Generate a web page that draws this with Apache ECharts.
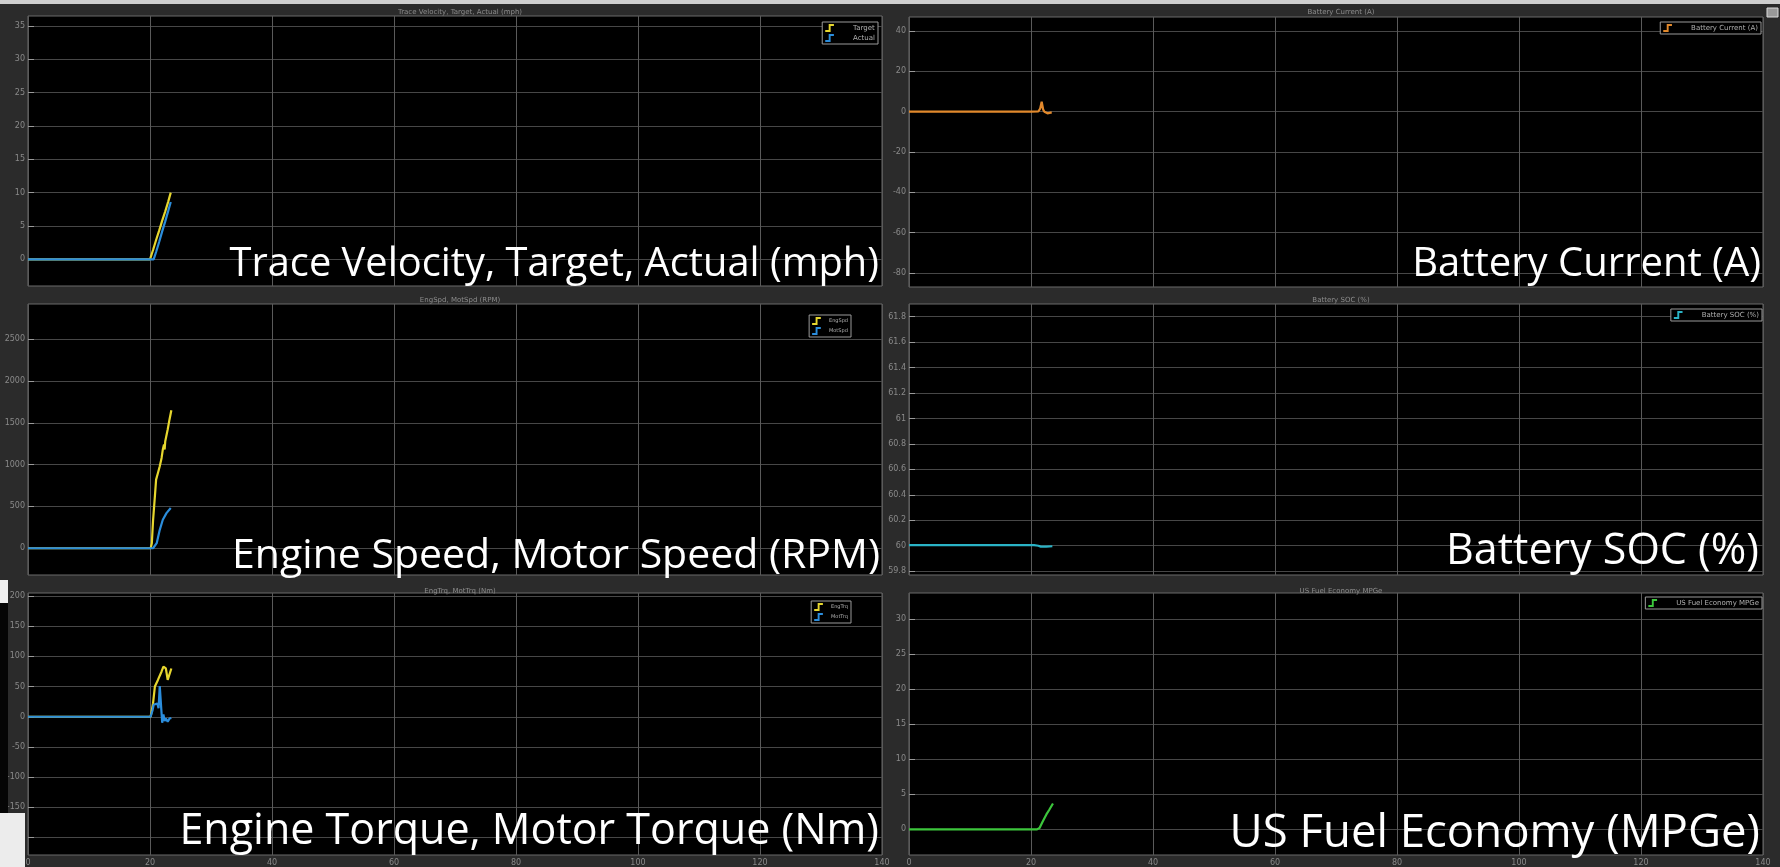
<!DOCTYPE html>
<html>
<head>
<meta charset="utf-8">
<script src="https://cdn.jsdelivr.net/npm/echarts@6/dist/echarts.min.js"></script>
<style>
html,body{margin:0;padding:0;background:#2b2b2b;}
#c{width:1780px;height:867px;}
</style>
</head>
<body>
<div id="c"></div>
<script>
// ---- data (time in s) ----
const timeTicks = [0, 20, 40, 60, 80, 100, 120, 140];
const velTicks = [0, 5, 10, 15, 20, 25, 30, 35];
const currTicks = [-80, -60, -40, -20, 0, 20, 40];
const spdTicks = [0, 500, 1000, 1500, 2000, 2500];
const socTicks = [59.8, 60, 60.2, 60.4, 60.6, 60.8, 61, 61.2, 61.4, 61.6, 61.8];
const trqTicks = [-200, -150, -100, -50, 0, 50, 100, 150, 200];
const mpgTicks = [0, 5, 10, 15, 20, 25, 30];

const velTarget = [[0,0],[20.0,0],[20.5,1.4],[21.0,2.9],[21.5,4.3],[22.0,5.8],[22.5,7.2],[23.0,8.7],[23.4,10.0]];
const velActual = [[0,0],[20.6,0],[21.0,1.1],[21.5,2.6],[22.0,4.2],[22.5,5.7],[23.0,7.3],[23.4,8.6]];
const battCurrent = [[0,0],[20.0,0],[21.2,0.1],[21.5,1.5],[21.75,5.0],[22.0,1.0],[22.2,0],[22.5,-0.5],[22.7,-0.8],[23.0,-0.4],[23.4,-0.3]];
const engSpd = [[0,0],[20.1,0],[20.3,60],[20.5,330],[20.8,620],[21.0,820],[21.3,900],[21.6,980],[21.9,1080],[22.1,1180],[22.3,1240],[22.4,1180],[22.5,1280],[22.9,1420],[23.2,1540],[23.5,1650]];
const motSpd = [[0,0],[20.5,0],[21.1,60],[21.6,220],[22.1,340],[22.7,420],[23.4,480]];
const battSoc = [[0,60.005],[20.5,60.005],[21.2,60.0],[21.6,59.993],[22.5,59.993],[23.5,59.996]];
const engTrq = [[0,0],[20.1,0],[20.5,22],[20.8,50],[21.3,61],[21.9,75],[22.2,83],[22.6,80],[22.9,61],[23.2,58],[23.5,80]];
const motTrq = [[0,0],[20.1,0],[20.4,10],[20.6,20],[20.9,17],[21.2,22],[21.4,14],[21.6,51],[21.8,20],[22.0,-10],[22.2,4],[22.4,-7],[22.6,-3],[22.9,-8],[23.2,-3],[23.5,-2]];
const fuelEcon = [[0,0],[21.0,0],[21.4,0.2],[21.9,1.1],[22.5,2.1],[23.0,2.8],[23.6,3.7]];

const panelTitles = ['Trace Velocity, Target, Actual (mph)','Battery Current (A)','EngSpd, MotSpd (RPM)','Battery SOC (%)','EngTrq, MotTrq (Nm)','US Fuel Economy MPGe'];
const overlayTexts = ['Trace Velocity, Target, Actual (mph)','Battery Current (A)','Engine Speed, Motor Speed (RPM)','Battery SOC (%)','Engine Torque, Motor Torque (Nm)','US Fuel Economy (MPGe)'];

// ---- layout ----
const grids = [
  {left:28, top:16, width:854, height:270},
  {left:909, top:17, width:854, height:270},
  {left:28, top:304, width:854, height:271},
  {left:909, top:304, width:854, height:271},
  {left:28, top:593, width:854, height:263},
  {left:909, top:593, width:854, height:262}
];
const yRanges = [[-4,36.5],[-87,47],[-320,2920],[59.77,61.9],[-229,205],[-3.65,33.7]];
const yTicks = [velTicks, currTicks, spdTicks, socTicks, trqTicks, mpgTicks];

const xAxes = grids.map((g,i)=>({
  type:'value', gridIndex:i, min:0, max:140, interval:20,
  axisLine:{show:false}, axisTick:{show:false},
  axisLabel:{show:i>=4, color:'#8a8a8a', fontSize:8, margin:4, fontFamily:'DejaVu Sans', formatter:v=>String(v)},
  splitLine:{show:true, lineStyle:{color:'#5a5a5a', width:1}}
}));
const yAxes = grids.map((g,i)=>({
  type:'value', gridIndex:i, min:yRanges[i][0], max:yRanges[i][1],
  axisLine:{show:false},
  axisTick:{show:true, inside:true, length:6, lineStyle:{color:'#9a9a9a'}, customValues:yTicks[i]},
  axisLabel:{show:true, color:'#8a8a8a', fontSize:8, margin:3, fontFamily:'DejaVu Sans', customValues:yTicks[i],
    formatter:v=>String(Math.round(v*10)/10)},
  splitLine:{show:true, lineStyle:{color:'#474747', width:1}}
}));

const stepIcon = 'path://M0,7 L4,7 L4,0 L10,0 L10,2.2 L6.2,2.2 L6.2,9.2 L0,9.2 Z';
function mkLegend(names, right, top, fs, gap){
  return {data:names, orient:'vertical', right:right, top:top, icon:stepIcon,
    itemWidth:9, itemHeight:8, itemGap:2, padding:[2,3,2,3],
    borderColor:'#9a9a9a', borderWidth:1, backgroundColor:'#000', selectedMode:false,
    textStyle:{color:'#b0b0b0', fontSize:fs, fontFamily:'DejaVu Sans', padding:[0,0,0,gap]}};
}

function line(name, data, i, color){
  return {type:'line', name:name, data:data, xAxisIndex:i, yAxisIndex:i,
    showSymbol:false, symbol:'none', lineStyle:{color:color, width:2.2}, itemStyle:{color:color},
    animation:false, clip:true};
}

const titleCenters = [[455,9],[1336,9],[455,297],[1336,297],[455,588],[1336,588]];
const overlayPos = [[879,265],[1761,265],[880,556],[1759,552],[879,832],[1760,834]];
const overlaySizes = [39.8, 40, 41, 43, 43, 45.5];

const option = {
  backgroundColor:'#2b2b2b',
  animation:false,
  title: panelTitles.map((t,i)=>({text:t, left:titleCenters[i][0], top:titleCenters[i][1]-5, textAlign:'center',
    textStyle:{color:'#8c8c8c', fontSize:7, fontWeight:'normal', fontFamily:'DejaVu Sans'}})),
  grid: grids.map(g=>Object.assign({show:true, backgroundColor:'#000', borderColor:'#6a6a6a', borderWidth:1}, g)),
  xAxis: xAxes,
  yAxis: yAxes,
  legend: [
    mkLegend(['Target','Actual'], 902, 22, 7, 14),
    mkLegend(['Battery Current (A)'], 19, 22, 7, 14),
    mkLegend(['EngSpd','MotSpd'], 929, 315, 5, 3),
    mkLegend(['Battery SOC (%)'], 18, 309, 7, 14),
    mkLegend(['EngTrq','MotTrq'], 929, 601, 5, 3),
    mkLegend(['US Fuel Economy MPGe'], 18, 597, 7, 14)
  ],
  series: [
    line('Target', velTarget, 0, '#e6d62e'),
    line('Actual', velActual, 0, '#2b8ddc'),
    line('Battery Current (A)', battCurrent, 1, '#e2892c'),
    line('EngSpd', engSpd, 2, '#e6d62e'),
    line('MotSpd', motSpd, 2, '#2b8ddc'),
    line('Battery SOC (%)', battSoc, 3, '#2ab3c6'),
    line('EngTrq', engTrq, 4, '#e6d62e'),
    line('MotTrq', motTrq, 4, '#2b8ddc'),
    line('US Fuel Economy MPGe', fuelEcon, 5, '#3cc63c')
  ],
  graphic: [
    {type:'rect', z:200, shape:{x:0,y:0,width:1780,height:4}, style:{fill:'#cfcfcf'}, silent:true},
    {type:'rect', z:200, shape:{x:0,y:580,width:8,height:23}, style:{fill:'#efefef'}, silent:true},
    {type:'rect', z:200, shape:{x:0,y:603,width:8,height:210}, style:{fill:'#050505'}, silent:true},
    {type:'rect', z:200, shape:{x:0,y:813,width:25,height:54}, style:{fill:'#ececec'}, silent:true},
    {type:'rect', z:200, shape:{x:1767,y:8,width:11,height:9}, style:{fill:'#9a9a9a', stroke:'#dcdcdc', lineWidth:1}, silent:true}
  ].concat(overlayTexts.map((t,i)=>({type:'text', x:overlayPos[i][0], y:overlayPos[i][1], silent:true, z:100,
    style:{text:t, fill:'#ffffff', fontSize:overlaySizes[i], fontFamily:'Open Sans', textAlign:'right', textVerticalAlign:'middle'}})))
};

const chart = echarts.init(document.getElementById('c'), null, {renderer:'canvas', width:1780, height:867});
chart.setOption(option);
</script>
</body>
</html>
